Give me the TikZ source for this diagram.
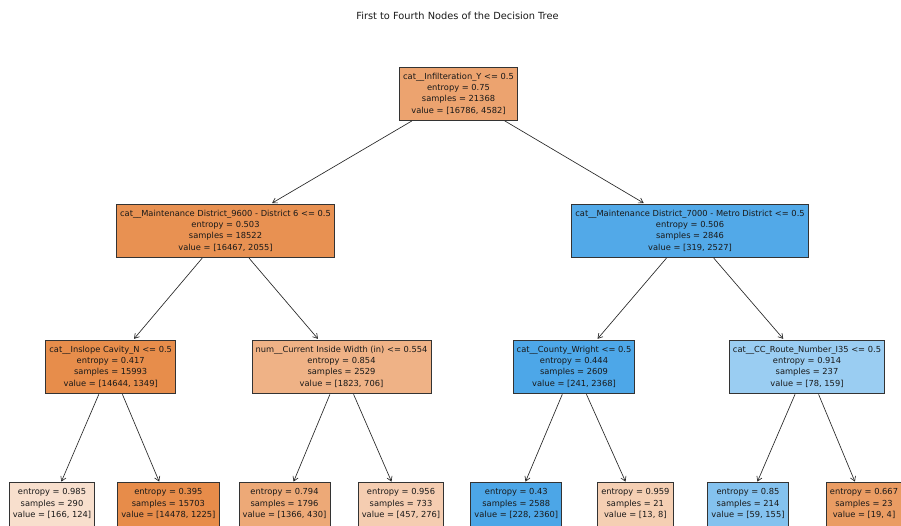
\documentclass[tikz,border=0pt]{standalone}
\usepackage{fontspec}
\setmainfont{DejaVu Sans}
\usetikzlibrary{arrows.meta,backgrounds}
\definecolor{cRoot}{RGB}{236,163,111}
\definecolor{cA}{RGB}{232,145,82}
\definecolor{cB}{RGB}{82,169,232}
\definecolor{cC}{RGB}{231,141,75}
\definecolor{cD}{RGB}{239,178,134}
\definecolor{cE}{RGB}{77,167,232}
\definecolor{cF}{RGB}{154,205,242}
\definecolor{cL1}{RGB}{248,223,205}
\definecolor{cL2}{RGB}{231,140,74}
\definecolor{cL3}{RGB}{237,169,119}
\definecolor{cL4}{RGB}{245,205,177}
\definecolor{cL5}{RGB}{76,166,231}
\definecolor{cL6}{RGB}{245,207,179}
\definecolor{cL7}{RGB}{132,194,239}
\definecolor{cL8}{RGB}{234,156,99}
\tikzset{
  treebox/.style={draw=black!80, line width=0.8pt, align=center, inner xsep=3.5pt,
    text=black!90, font=\fontsize{8.3}{11.3}\selectfont, minimum height=53pt, inner ysep=0pt},
  leafbox/.style={align=center, inner xsep=3.5pt, inner ysep=0pt,
    text=black!90, font=\fontsize{8.3}{11.3}\selectfont, minimum height=41.5pt},
  leafframe/.style={draw=black!80, line width=0.8pt},
  treearrow/.style={draw=black!85, line width=0.65pt, -{Straight Barb[length=4.5pt,width=5.5pt]}, shorten >=1pt, shorten <=1pt},
}
\begin{document}
\begin{tikzpicture}[x=1pt,y=-1pt]
\clip (0,0) rectangle (901,525);
\node[font=\fontsize{9.8}{12}\selectfont, text=black!90] (title) at (457.5,16) {First to Fourth Nodes of the Decision Tree};

\node[treebox, fill=cRoot] (root) at (458.5,93.5) {cat\_\_Infilteration\_Y <= 0.5\\entropy = 0.75\\samples = 21368\\value = [16786, 4582]};

\node[treebox, fill=cA] (a) at (225.5,230.5) {cat\_\_Maintenance District\_9600 - District 6 <= 0.5\\entropy = 0.503\\samples = 18522\\value = [16467, 2055]};
\node[treebox, fill=cB] (b) at (690,230.5) {cat\_\_Maintenance District\_7000 - Metro District <= 0.5\\entropy = 0.506\\samples = 2846\\value = [319, 2527]};

\node[treebox, fill=cC] (c) at (110.7,366.5) {cat\_\_Inslope Cavity\_N <= 0.5\\entropy = 0.417\\samples = 15993\\value = [14644, 1349]};
\node[treebox, fill=cD] (d) at (341.5,366.5) {num\_\_Current Inside Width (in) <= 0.554\\entropy = 0.854\\samples = 2529\\value = [1823, 706]};
\node[treebox, fill=cE] (e) at (574,366.5) {cat\_\_County\_Wright <= 0.5\\entropy = 0.444\\samples = 2609\\value = [241, 2368]};
\node[treebox, fill=cF] (f) at (807,366.5) {cat\_\_CC\_Route\_Number\_I35 <= 0.5\\entropy = 0.914\\samples = 237\\value = [78, 159]};

\node[leafbox] (l1) at (52,503.5) {entropy = 0.985\\samples = 290\\value = [166, 124]};
\node[leafbox] (l2) at (168.4,503.5) {entropy = 0.395\\samples = 15703\\value = [14478, 1225]};
\node[leafbox] (l3) at (284.5,503.5) {entropy = 0.794\\samples = 1796\\value = [1366, 430]};
\node[leafbox] (l4) at (401,503.5) {entropy = 0.956\\samples = 733\\value = [457, 276]};
\node[leafbox] (l5) at (516.3,503.5) {entropy = 0.43\\samples = 2588\\value = [228, 2360]};
\node[leafbox] (l6) at (635.3,503.5) {entropy = 0.959\\samples = 21\\value = [13, 8]};
\node[leafbox] (l7) at (748,503.5) {entropy = 0.85\\samples = 214\\value = [59, 155]};
\node[leafbox] (l8) at (864,503.5) {entropy = 0.667\\samples = 23\\value = [19, 4]};

\begin{scope}[on background layer]
\fill[white] (0,0) rectangle (901,525);
\filldraw[leafframe, fill=cL1] (l1.north west) rectangle ([yshift=-6pt]l1.south east);
\filldraw[leafframe, fill=cL2] (l2.north west) rectangle ([yshift=-6pt]l2.south east);
\filldraw[leafframe, fill=cL3] (l3.north west) rectangle ([yshift=-6pt]l3.south east);
\filldraw[leafframe, fill=cL4] (l4.north west) rectangle ([yshift=-6pt]l4.south east);
\filldraw[leafframe, fill=cL5] (l5.north west) rectangle ([yshift=-6pt]l5.south east);
\filldraw[leafframe, fill=cL6] (l6.north west) rectangle ([yshift=-6pt]l6.south east);
\filldraw[leafframe, fill=cL7] (l7.north west) rectangle ([yshift=-6pt]l7.south east);
\filldraw[leafframe, fill=cL8] (l8.north west) rectangle ([yshift=-6pt]l8.south east);
\end{scope}

\draw[treearrow] (root) -- (a);
\draw[treearrow] (root) -- (b);
\draw[treearrow] (a) -- (c);
\draw[treearrow] (a) -- (d);
\draw[treearrow] (b) -- (e);
\draw[treearrow] (b) -- (f);
\draw[treearrow] (c) -- (l1);
\draw[treearrow] (c) -- (l2);
\draw[treearrow] (d) -- (l3);
\draw[treearrow] (d) -- (l4);
\draw[treearrow] (e) -- (l5);
\draw[treearrow] (e) -- (l6);
\draw[treearrow] (f) -- (l7);
\draw[treearrow] (f) -- (l8);
\end{tikzpicture}
\end{document}
